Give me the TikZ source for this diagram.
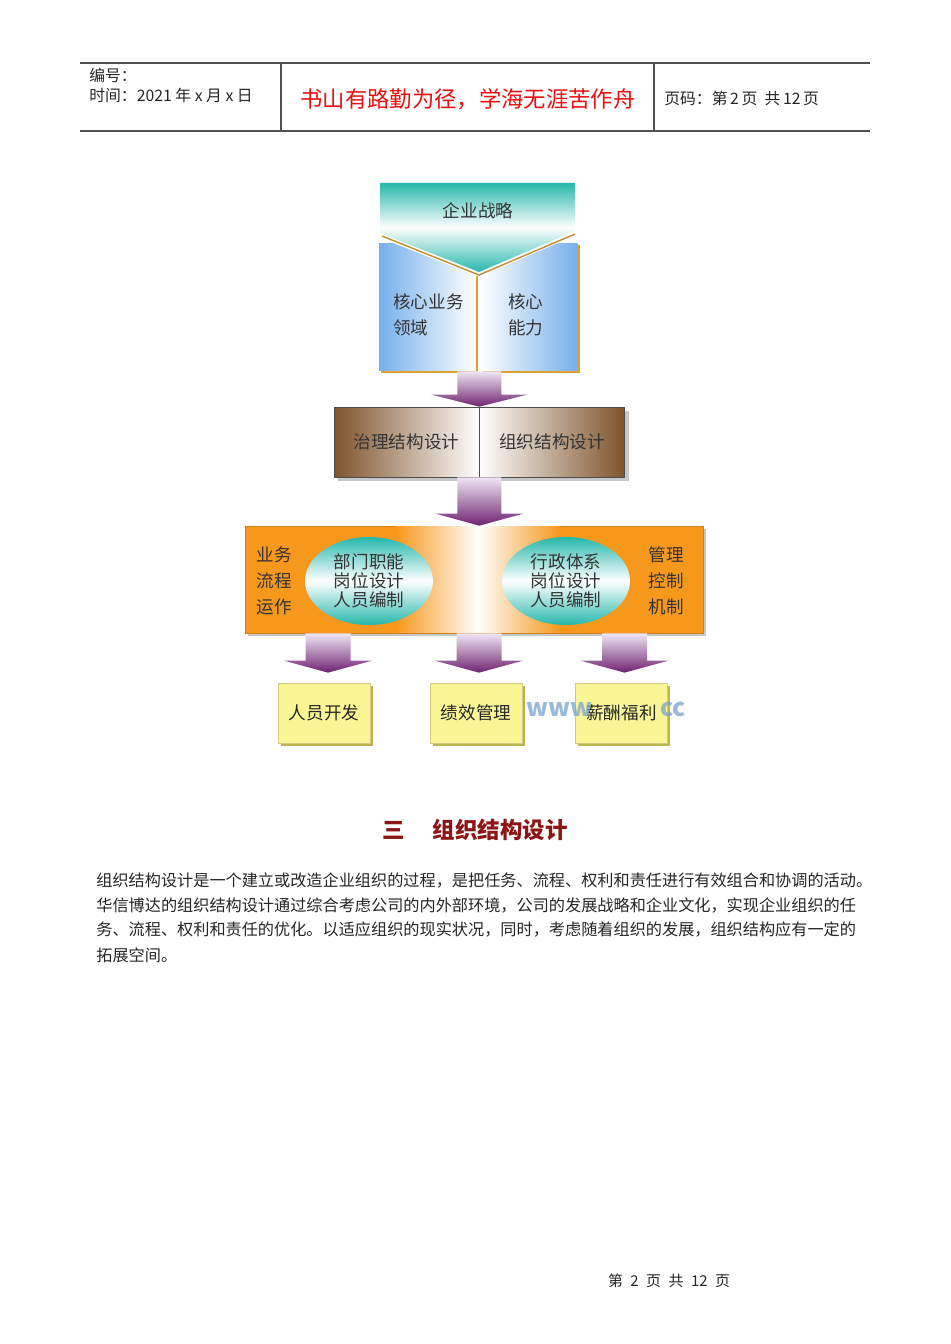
\documentclass[tikz,border=0pt]{standalone}
\usepackage{fontspec}
\setmainfont{Noto Sans CJK SC}
\usetikzlibrary{positioning,shapes.geometric,shadows,calc}
\definecolor{Teal}{RGB}{38,184,172}
\definecolor{SkyBlue}{RGB}{118,176,236}
\definecolor{Gold}{RGB}{222,162,48}
\definecolor{Bark}{RGB}{128,84,44}
\definecolor{Amber}{RGB}{246,152,28}
\definecolor{Butter}{RGB}{250,246,150}
\definecolor{Olive}{RGB}{190,180,80}
\definecolor{Plum}{RGB}{112,34,112}
\definecolor{Lilac}{RGB}{240,230,246}
\definecolor{HeadRed}{RGB}{232,16,16}
\definecolor{Maroon}{RGB}{140,22,22}
\definecolor{Rule}{RGB}{80,80,80}
\definecolor{Wm}{RGB}{120,165,205}

% block arrow: from, to, shaft half width, head half width
\newcommand{\blockarrow}[4]{%
  \path[arw] let \p1=(#1), \p2=(#2) in
    (\x2-#3,\y1) -- (\x2+#3,\y1) -- (\x2+#3,\y2+0.24cm) -- (\x2+#4,\y2+0.24cm)
    -- (\x2,\y2) -- (\x2-#4,\y2+0.24cm) -- (\x2-#3,\y2+0.24cm) -- cycle;}

\begin{document}
\begin{tikzpicture}[x=0.02cm, y=-0.02cm,
  hd/.style={inner sep=0pt, font=\fontsize{9}{11}\selectfont, text=black!85},
  motto/.style={inner sep=0pt, font=\fontsize{12.7}{15}\selectfont, text=HeadRed},
  lbl/.style={inner sep=0pt, align=left, font=\fontsize{10}{14.8}\selectfont, text=black!80},
  core/.style={minimum width=1.94cm, minimum height=2.56cm,
    drop shadow={shadow xshift=1.2pt, shadow yshift=-1.2pt, fill=Gold, opacity=1}},
  des/.style={draw=black!70, minimum width=2.9cm, minimum height=1.4cm, text=black!80,
    font=\fontsize{10}{12}\selectfont,
    drop shadow={shadow xshift=2.5pt, shadow yshift=-2.5pt, fill=black!22, opacity=1}},
  band/.style={fill=Amber, draw=Amber!85!black, minimum width=9.16cm, minimum height=2.14cm,
    drop shadow={shadow xshift=1.5pt, shadow yshift=-1.5pt, fill=black!22, opacity=1}},
  glow/.style={left color=Amber, right color=Amber, middle color=white},
  oval/.style={ellipse, inner sep=0pt, minimum width=2.56cm, minimum height=1.76cm,
    top color=Teal, bottom color=Teal, middle color=white, align=center,
    font=\fontsize{10}{10.8}\selectfont, text=black!80},
  res/.style={fill=Butter, draw=Olive!70, minimum width=1.84cm, minimum height=1.2cm,
    font=\fontsize{10}{12}\selectfont, text=black!85,
    drop shadow={shadow xshift=1.5pt, shadow yshift=-1.5pt, fill=Olive, opacity=1}},
  wm/.style={inner sep=0pt, font=\fontsize{14}{16}\selectfont\bfseries, text=Wm, opacity=0.75},
  arw/.style={top color=Lilac, bottom color=Plum},
  rule/.style={draw=Rule, line width=0.6pt},
  para/.style={inner sep=0pt, anchor=west, font=\fontsize{9.2}{11}\selectfont, text=black!85}]
\useasboundingbox (0,0) rectangle (950,1344);
\fill[white] (0,0) rectangle (950,1344);

% header
\draw[rule] (80,63) -- (870,63);
\draw[rule] (80,131) -- (870,131);
\draw[rule] (281,63) -- (281,131);
\draw[rule] (654,63) -- (654,131);
\node[hd, anchor=west] (serial) at (89,75) {编号：};
\node[hd, anchor=west] (date) at (89,95) {时间：2021\ 年\ x\ 月\ x\ 日};
\node[motto] (motto) at (468,99) {书山有路勤为径，学海无涯苦作舟};
\node[hd, anchor=west] (pageno) at (664,98) {页码：第\,2\,页\ \ 共\,12\,页};

% strategy and core
\node[core, left color=SkyBlue, right color=white] (coreL) at (427.5,307) {};
\node[core, left color=white, right color=SkyBlue] (coreR) at (529,307) {};
\draw[white, line width=5pt] (380,183) -- (575,183) -- (575,231) -- (479,272) -- (380,233) -- cycle;
\draw[Gold!70!Bark, line width=0.8pt] (382,236) -- (479,275) -- (575,234);
\path[top color=Teal, bottom color=Teal, middle color=white]
  (380,183) -- (575,183) -- (575,231) -- (479,272) -- (380,233) -- cycle;
\node[lbl] (strat) at (478,211) {企业战略};
\node[lbl, anchor=west] (coreLtxt) at (393,315) {核心业务\\领域};
\node[lbl, anchor=west] (coreRtxt) at (508,315) {核心\\能力};

% structure design
\node[des, left color=Bark, right color=white] (gov) at (406.5,442) {治理结构设计};
\node[des, left color=white, right color=Bark] (org) at (552,442) {组织结构设计};
\blockarrow{coreL.south}{gov.north east}{0.44cm}{0.96cm}

% operation band
\node[band] (band) at (474,579.5) {};
\path[glow] ($(band.north)+(-78,1)$) rectangle ($(band.south)+(86,-1)$);
\node[lbl] (flow) at (274,581) {业务\\流程\\运作};
\node[lbl] (ctrl) at (666,581) {管理\\控制\\机制};
\node[oval] (deptL) at (369,581) {部门职能\\岗位设计\\人员编制};
\node[oval] (deptR) at (566,581) {行政体系\\岗位设计\\人员编制};
\blockarrow{gov.south east}{gov.south east |- band.north}{0.44cm}{0.88cm}

% results
\node[res] (staff) at (324,713) {人员开发};
\node[res] (perf) at (476,713) {绩效管理};
\node[res] (pay) at (621.5,713) {薪酬福利};
\coordinate (t1) at ($(staff.north)+(4,-10)$);
\coordinate (t2) at ($(perf.north)+(3,-10)$);
\coordinate (t3) at ($(pay.north)+(3,-10)$);
\blockarrow{band.south}{t1}{0.45cm}{0.88cm}
\blockarrow{band.south}{t2}{0.45cm}{0.88cm}
\blockarrow{band.south}{t3}{0.45cm}{0.88cm}
\node[wm, anchor=west] (wmA) at (526,709) {www};
\node[wm, anchor=west] (wmB) at (660,709) {cc};

% section text
\node[inner sep=0pt, anchor=west, font=\fontsize{12.8}{15}\selectfont\bfseries, text=Maroon] (sect) at (382,830) {三\hspace{1.25em}组织结构设计};
\node[para] (p1) at (96,880) {组织结构设计是一个建立或改造企业组织的过程，是把任务、流程、权利和责任进行有效组合和协调的活动。};
\node[para] (p2) at (96,905) {华信博达的组织结构设计通过综合考虑公司的内外部环境，公司的发展战略和企业文化，实现企业组织的任};
\node[para] (p3) at (96,930) {务、流程、权利和责任的优化。以适应组织的现实状况，同时，考虑随着组织的发展，组织结构应有一定的};
\node[para] (p4) at (96,955) {拓展空间。};
\node[inner sep=0pt, font=\fontsize{8.5}{10}\selectfont, text=black!85] (foot) at (669,1281) {第\hspace{0.5em}2\hspace{0.5em}页\hspace{0.5em}共\hspace{0.5em}12\hspace{0.5em}页};
\end{tikzpicture}
\end{document}
